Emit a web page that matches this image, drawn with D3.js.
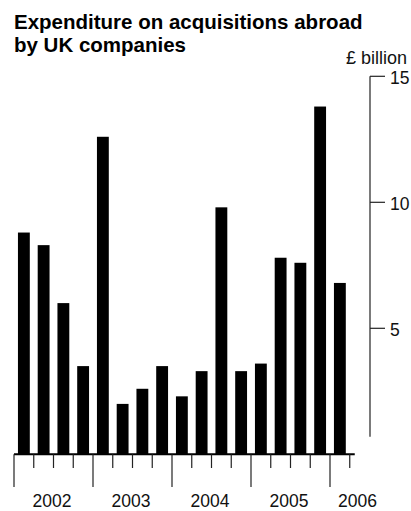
<!DOCTYPE html>
<html>
<head>
<meta charset="utf-8">
<script src="https://cdn.jsdelivr.net/npm/d3@7"></script>
<style>
  html, body { margin: 0; padding: 0; background: #fff; }
  svg { display: block; font-family: "Liberation Sans", Arial, Helvetica, sans-serif; }
</style>
</head>
<body>
<svg id="chart" width="411" height="511"></svg>
<script>
// Data: quarterly expenditure, 2002 Q1 – 2006 Q1 (£ billion)
const quarters = ["2002Q1","2002Q2","2002Q3","2002Q4","2003Q1","2003Q2","2003Q3","2003Q4",
                  "2004Q1","2004Q2","2004Q3","2004Q4","2005Q1","2005Q2","2005Q3","2005Q4","2006Q1"];
const values = [8.8, 8.3, 6.0, 3.5, 12.6, 2.0, 2.6, 3.5, 2.3, 3.3, 9.8, 3.3, 3.6, 7.8, 7.6, 13.8, 6.8];
const yearLabels = ["2002", "2003", "2004", "2005", "2006"];
const yTicks = [5, 10, 15];

const svg = d3.select("#chart");

// Title
const title = svg.append("text")
  .attr("font-size", 20.5).attr("font-weight", "bold").attr("fill", "#000");
title.append("tspan").attr("x", 14).attr("y", 28.5).text("Expenditure on acquisitions abroad");
title.append("tspan").attr("x", 14).attr("y", 51.5).text("by UK companies");

// Scales
const x0 = 14, step = 19.75;
const x = d3.scaleBand()
  .domain(quarters)
  .range([x0, x0 + step * quarters.length])
  .paddingInner(0.4)
  .paddingOuter(0.2);

const y = d3.scaleLinear().domain([0, 15]).range([454.3, 76.3]);

// Bars
svg.append("g").selectAll("rect")
  .data(values)
  .join("rect")
  .attr("x", (d, i) => x(quarters[i]))
  .attr("width", x.bandwidth())
  .attr("y", d => y(d))
  .attr("height", d => y(0) - y(d))
  .attr("fill", "#000");

// Right y axis
const axisX = 370;
const yAxis = svg.append("g").attr("class", "y-axis");
yAxis.append("line")
  .attr("x1", axisX).attr("x2", axisX)
  .attr("y1", y(15)).attr("y2", y(0.7))
  .attr("stroke", "#222").attr("stroke-width", 1.2);
yAxis.selectAll("line.tick")
  .data(yTicks).join("line").attr("class", "tick")
  .attr("x1", axisX).attr("x2", axisX + 15)
  .attr("y1", d => y(d)).attr("y2", d => y(d))
  .attr("stroke", "#222").attr("stroke-width", 1.2);
yAxis.selectAll("text")
  .data(yTicks).join("text")
  .attr("x", axisX + 20)
  .attr("y", d => y(d) + 8)
  .attr("font-size", 17.5).attr("fill", "#111")
  .text(d => d);

svg.append("text")
  .attr("x", 407).attr("y", 63.5)
  .attr("text-anchor", "end")
  .attr("font-size", 18).attr("fill", "#111")
  .text("£ billion");

// X axis baseline
const base = y(0);
svg.append("line")
  .attr("x1", x0).attr("x2", x0 + step * quarters.length + 5)
  .attr("y1", base).attr("y2", base)
  .attr("stroke", "#000").attr("stroke-width", 2);

// Quarter ticks at slot boundaries
const boundaries = d3.range(quarters.length + 1);
svg.append("g").selectAll("line")
  .data(boundaries).join("line")
  .attr("x1", i => x0 + i * x.step())
  .attr("x2", i => x0 + i * x.step())
  .attr("y1", base)
  .attr("y2", i => (i % 4 === 0 && i < quarters.length) ? 487 : 468)
  .attr("stroke", "#222").attr("stroke-width", 1.2);

// Year labels
svg.append("g").selectAll("text")
  .data(yearLabels).join("text")
  .attr("x", (d, i) => {
    const start = x0 + i * 4 * x.step();
    return i < 4 ? start + 2 * x.step() - 1.5 : start + 27.5;
  })
  .attr("y", 507)
  .attr("text-anchor", "middle")
  .attr("font-size", 17.5).attr("fill", "#111")
  .text(d => d);
</script>
</body>
</html>
